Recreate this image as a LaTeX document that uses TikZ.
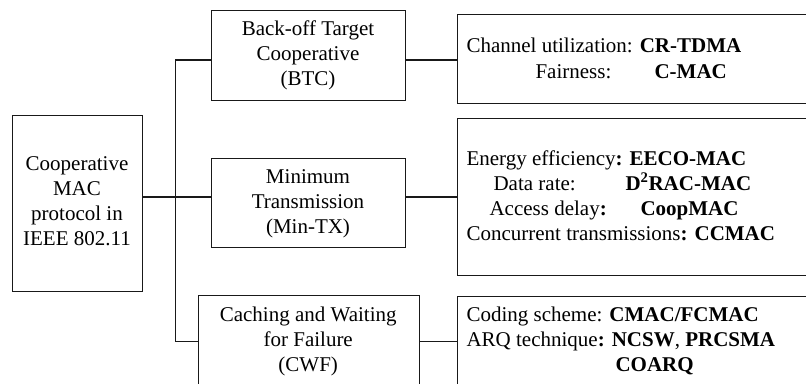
\documentclass[tikz,border=0pt]{standalone}
\usepackage{fontspec}
\setmainfont{Liberation Serif}
\begin{document}
\begin{tikzpicture}[x=1pt,y=-1pt,line width=1.1pt,
  box/.style={draw=black!90, rectangle, inner sep=0pt, anchor=north west},
  txt/.style={font=\fontsize{21}{25}\selectfont, inner sep=0pt},
  conn/.style={draw=black!90, line width=1.1pt}]
\useasboundingbox (0,0) rectangle (806,383);
\clip (0,0) rectangle (806,383);
% boxes
\node[box, minimum width=130, minimum height=175.7] (root) at (12,115) {};
\node[box, minimum width=194, minimum height=89.5] (btc) at (211,10) {};
\node[box, minimum width=194, minimum height=89.3] (mintx) at (211,157.7) {};
\node[box, minimum width=221, minimum height=100] (cwf) at (197.7,295) {};
\node[box, minimum width=360, minimum height=89.3] (r1) at (456.7,14) {};
\node[box, minimum width=360, minimum height=156.5] (r2) at (456.7,118) {};
\node[box, minimum width=360, minimum height=100] (r3) at (456.7,296) {};
% centered texts
\foreach \t [count=\i] in {Cooperative, MAC, protocol in, IEEE 802.11}
  \node[txt, anchor=base] (rootl\i) at (77,145+25*\i) {\t};
\foreach \t [count=\i] in {Back-off Target, Cooperative, (BTC)}
  \node[txt, anchor=base] (btcl\i) at (308,10+25*\i) {\t};
\foreach \t [count=\i] in {Minimum, Transmission, (Min-TX)}
  \node[txt, anchor=base] (mintxl\i) at (308,158+25*\i) {\t};
\foreach \t [count=\i] in {Caching and Waiting, for Failure, (CWF)}
  \node[txt, anchor=base] (cwfl\i) at (308.2,296.7+25*\i) {\t};
% right texts
\node[txt, anchor=base west] (a1) at (466,52.3) {Channel utilization: \textbf{CR-TDMA}};
\node[txt, anchor=base west] (a2) at (535,78.3) {Fairness:};
\node[txt, anchor=base west] (a2v) at (654,78.3) {\textbf{C-MAC}};
\node[txt, anchor=base west] (b1) at (466,165) {Energy efficiency\textbf{: EECO-MAC}};
\node[txt, anchor=base west] (b2) at (493,190) {Data rate:};
\node[txt, anchor=base west] (b2v) at (625,190) {\textbf{D\textsuperscript{2}RAC-MAC}};
\node[txt, anchor=base west] (b3) at (489,215) {Access delay\textbf{:}};
\node[txt, anchor=base west] (b3v) at (640,215) {\textbf{CoopMAC}};
\node[txt, anchor=base west] (b4) at (466,240) {Concurrent transmissions\textbf{: CCMAC}};
\node[txt, anchor=base west] (c1) at (466,321) {Coding scheme: \textbf{CMAC/FCMAC}};
\node[txt, anchor=base west] (c2) at (466,346) {ARQ technique\textbf{: NCSW}, \textbf{PRCSMA}};
\node[txt, anchor=base west] (c3) at (615,371.5) {\textbf{COARQ}};
% trunk coordinates
\coordinate (t1) at (175.3,60);
\coordinate (t2) at (175.3,197);
\coordinate (t3) at (175.3,341.7);
% connectors
\draw[conn] (root.east |- t2) -- (t2);
\draw[conn] (t1) -- (t3);
\draw[conn] (t1) -- (t1 -| btc.west);
\draw[conn] (t2) -- (t2 -| mintx.west);
\draw[conn] (t3) -- (t3 -| cwf.west);
\draw[conn] (t1 -| btc.east) -- (t1 -| r1.west);
\draw[conn] (t2 -| mintx.east) -- (t2 -| r2.west);
\draw[conn] (t3 -| cwf.east) -- (t3 -| r3.west);
\end{tikzpicture}
\end{document}
